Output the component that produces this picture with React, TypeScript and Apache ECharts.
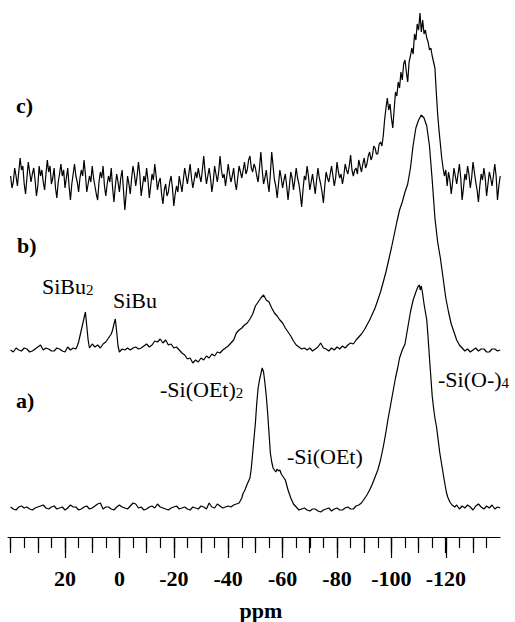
import React, { useEffect, useRef } from "react";
import * as echarts from "echarts";

// 29Si NMR spectra: [ppm, intensity above the trace's own baseline]
const traceC: [number, number][] = [
  [40, 4], [39.5, -8], [39, -2], [38.5, 12], [38, 4], [37.5, -6], [37, 8], [36.5, 22], [36, 10], [35.5, 14],
  [35, -4], [34.5, -14], [34, 2], [33.5, 18], [33, 8], [32.5, -2], [32, 6], [31.5, 12], [31, 0], [30.5, -16],
  [30, -6], [29.5, 14], [29, 4], [28.5, 10], [28, -2], [27.5, -10], [27, 6], [26.5, 20], [26, 8], [25.5, 14],
  [25, -4], [24.5, 2], [24, 12], [23.5, -8], [23, -18], [22.5, -2], [22, 6], [21.5, 16], [21, 4], [20.5, 10],
  [20, -8], [19.5, 2], [19, 12], [18.5, -6], [18, -20], [17.5, -4], [17, 6], [16.5, 16], [16, 4], [15.5, -2],
  [15, -12], [14.5, 2], [14, 10], [13.5, 4], [13, 20], [12.5, 6], [12, -12], [11.5, -4], [11, 4], [10.5, -2],
  [10, 14], [9.5, 2], [9, -6], [8.5, -14], [8, -20], [7.5, -2], [7, 8], [6.5, 2], [6, 14], [5.5, -6],
  [5, -16], [4.5, -4], [4, 4], [3.5, -2], [3, 12], [2.5, -8], [2, -22], [1.5, -6], [1, 6], [0.5, -2],
  [0, -12], [-0.5, 2], [-1, 10], [-1.5, -10], [-2, -30], [-2.5, -14], [-3, 4], [-3.5, -4], [-4, -14], [-4.5, 2],
  [-5, 14], [-5.5, 6], [-6, -6], [-6.5, 4], [-7, 18], [-7.5, 6], [-8, -16], [-8.5, -6], [-9, 4], [-9.5, -2],
  [-10, 12], [-10.5, 0], [-11, -18], [-11.5, -6], [-12, 6], [-12.5, 0], [-13, 16], [-13.5, 4], [-14, -10], [-14.5, -2],
  [-15, 2], [-15.5, -14], [-16, -24], [-16.5, -10], [-17, -4], [-17.5, -16], [-18, -12], [-18.5, -2], [-19, 4], [-19.5, -8],
  [-20, -26], [-20.5, -14], [-21, -6], [-21.5, -12], [-22, 4], [-22.5, -4], [-23, -12], [-23.5, 0], [-24, 12], [-24.5, 4],
  [-25, -4], [-25.5, 6], [-26, 16], [-26.5, 2], [-27, -8], [-27.5, 0], [-28, 8], [-28.5, 2], [-29, 12], [-29.5, 4],
  [-30, -2], [-30.5, 10], [-31, 24], [-31.5, 8], [-32, -4], [-32.5, 4], [-33, 12], [-33.5, 2], [-34, -12], [-34.5, -2],
  [-35, 14], [-35.5, 6], [-36, -2], [-36.5, 8], [-37, 24], [-37.5, 10], [-38, 2], [-38.5, 6], [-39, -6], [-39.5, 4],
  [-40, 16], [-40.5, 6], [-41, -2], [-41.5, 4], [-42, 12], [-42.5, -2], [-43, -10], [-43.5, 2], [-44, 14], [-44.5, 8],
  [-45, 2], [-45.5, 10], [-46, 18], [-46.5, 6], [-47, 10], [-47.5, 20], [-48, 24], [-48.5, 12], [-49, 8], [-49.5, 16],
  [-50, 12], [-50.5, 4], [-51, -2], [-51.5, 12], [-52, 28], [-52.5, 10], [-53, -4], [-53.5, 2], [-54, 10], [-54.5, -2],
  [-55, -12], [-55.5, 6], [-56, 28], [-56.5, 14], [-57, 0], [-57.5, -6], [-58, -18], [-58.5, -4], [-59, 10], [-59.5, 2],
  [-60, -8], [-60.5, 0], [-61, 6], [-61.5, -6], [-62, -20], [-62.5, -6], [-63, 8], [-63.5, 2], [-64, -10], [-64.5, 0],
  [-65, 12], [-65.5, 2], [-66, -4], [-66.5, -14], [-67, -27], [-67.5, -10], [-68, 4], [-68.5, 0], [-69, 14], [-69.5, 4],
  [-70, -10], [-70.5, -2], [-71, 6], [-71.5, -4], [-72, -14], [-72.5, 0], [-73, 12], [-73.5, 2], [-74, -4], [-74.5, -12],
  [-75, -23], [-75.5, -6], [-76, 8], [-76.5, 2], [-77, -2], [-77.5, 6], [-78, 14], [-78.5, 4], [-79, -6], [-79.5, 2],
  [-80, 18], [-80.5, 8], [-81, 2], [-81.5, 6], [-82, -4], [-82.5, 4], [-83, 16], [-83.5, 10], [-84, 6], [-84.5, 14],
  [-85, 25], [-85.5, 10], [-86, 4], [-86.5, 10], [-87, 12], [-87.5, 6], [-88, 20], [-88.5, 14], [-89, 8], [-89.5, 16],
  [-90, 22], [-90.5, 12], [-91, 16], [-91.5, 24], [-92, 28], [-92.5, 20], [-93, 24], [-93.5, 34], [-94, 32], [-94.5, 26],
  [-95, 26], [-95.5, 36], [-96, 38], [-96.5, 34], [-97, 44], [-97.5, 60], [-98, 72], [-98.5, 82], [-99, 70], [-99.5, 76],
  [-100, 62], [-100.5, 52], [-101, 70], [-101.5, 88], [-102, 84], [-102.5, 98], [-103, 92], [-103.5, 108], [-104, 100], [-104.5, 116],
  [-105, 120], [-105.5, 108], [-106, 98], [-106.5, 118], [-107, 124], [-107.5, 132], [-108, 126], [-108.5, 146], [-109, 140], [-109.5, 156],
  [-110, 150], [-110.5, 167], [-111, 148], [-111.5, 160], [-112, 146], [-112.5, 150], [-113, 142], [-113.5, 138], [-114, 130], [-114.5, 132],
  [-115, 124], [-115.5, 118], [-116, 112], [-116.5, 88], [-117, 66], [-117.5, 50], [-118, 36], [-118.5, 22], [-119, 12], [-119.5, 4],
  [-120, 10], [-120.5, -6], [-121, 8], [-121.5, 0], [-122, -14], [-122.5, -2], [-123, 12], [-123.5, 4], [-124, -4], [-124.5, 6],
  [-125, 16], [-125.5, 2], [-126, -20], [-126.5, -8], [-127, 6], [-127.5, 0], [-128, 14], [-128.5, 6], [-129, -8], [-129.5, 2],
  [-130, 18], [-130.5, 8], [-131, -2], [-131.5, -10], [-132, -22], [-132.5, -6], [-133, 6], [-133.5, 0], [-134, 12], [-134.5, 2],
  [-135, -16], [-135.5, -4], [-136, 8], [-136.5, 2], [-137, -6], [-137.5, 4], [-138, 16], [-138.5, 4], [-139, -20], [-139.5, -6],
  [-140, 4],
];

const traceB: [number, number][] = [
  [40, 0], [39, -2], [38, 2], [37, 0], [36, -1], [35, 2], [34, 1], [33, -2], [32, -1], [31, 1],
  [30, 3], [29, 5], [28, 0], [27, 2], [26, 1], [25, -1], [24, -1], [23, 2], [22, 1], [21, -1],
  [20, -2], [19, 3], [18, 0], [17, 2], [16, 1], [15.5, 4], [15, 8], [14.5, 14], [14, 20], [13.5, 26],
  [13, 32], [12.5, 38], [12, 24], [11.5, 10], [11, 2], [10, 6], [9, 3], [8, 5], [7, 2], [6, 6],
  [5, 8], [4, 12], [3, 16], [2.5, 20], [2, 26], [1.5, 31], [1, 18], [0.5, 4], [0, -2], [-1, 1],
  [-2, 0], [-3, 2], [-4, 0], [-5, 2], [-6, 3], [-7, 1], [-8, 2], [-9, 4], [-10, 6], [-11, 3],
  [-12, 5], [-13, 9], [-14, 8], [-15, 11], [-16, 7], [-17, 10], [-18, 5], [-19, 6], [-20, 2], [-21, 3],
  [-22, 0], [-23, -3], [-24, -5], [-25, -9], [-26, -8], [-27, -13], [-28, -10], [-29, -12], [-30, -8], [-31, -10],
  [-32, -6], [-33, -8], [-34, -4], [-35, -6], [-36, -2], [-37, -3], [-38, 0], [-39, 2], [-40, 4], [-41, 7],
  [-42, 10], [-43, 17], [-44, 20], [-45, 22], [-46, 25], [-47, 27], [-48, 31], [-49, 36], [-50, 44], [-51, 48],
  [-52, 52], [-53, 55], [-54, 50], [-55, 48], [-56, 42], [-57, 37], [-58, 34], [-59, 30], [-60, 27], [-61, 22],
  [-62, 18], [-63, 14], [-64, 9], [-65, 5], [-66, 3], [-67, 1], [-68, 2], [-69, 0], [-70, 2], [-71, -1],
  [-72, 1], [-73, 3], [-74, 7], [-75, 2], [-76, 1], [-77, -1], [-78, 2], [-79, 0], [-80, 3], [-81, 1],
  [-82, 4], [-83, 2], [-84, 5], [-85, 7], [-86, 6], [-87, 10], [-88, 13], [-89, 16], [-90, 20], [-91, 25],
  [-92, 30], [-93, 36], [-94, 42], [-95, 50], [-96, 58], [-97, 68], [-98, 78], [-99, 90], [-100, 102], [-101, 115],
  [-102, 128], [-103, 140], [-104, 148], [-105, 158], [-106, 166], [-107, 182], [-108, 205], [-109, 222], [-110, 230], [-111, 235],
  [-112, 232], [-113, 224], [-114, 204], [-115, 170], [-116, 132], [-117, 108], [-118, 92], [-119, 72], [-120, 52], [-121, 38],
  [-122, 26], [-123, 18], [-124, 10], [-125, 5], [-126, 2], [-127, -1], [-128, 1], [-129, -2], [-130, 0], [-131, 2],
  [-132, -1], [-133, 1], [-134, 1], [-135, -2], [-136, -2], [-137, 1], [-138, 1], [-139, -1], [-140, 0],
];

const traceA: [number, number][] = [
  [40, 1], [39, -1], [38, -2], [37, 1], [36, 2], [35, 0], [34, 1], [33, -1], [32, -2], [31, 0],
  [30, 1], [29, 2], [28, 3], [27, 0], [26, -1], [25, 1], [24, 2], [23, -1], [22, 0], [21, 1],
  [20, -2], [19, 0], [18, 3], [17, 1], [16, 1], [15, -2], [14, -1], [13, 1], [12, 2], [11, -1],
  [10, 0], [9, 2], [8, 4], [7, 5], [6, -1], [5, 1], [4, 1], [3, -1], [2, -2], [1, 1],
  [0, 3], [-1, 1], [-2, 0], [-3, -1], [-4, 2], [-5, 5], [-6, 4], [-7, 0], [-8, 1], [-9, -2],
  [-10, -1], [-11, 1], [-12, 2], [-13, 0], [-14, 4], [-15, 1], [-16, 0], [-17, -1], [-18, -2], [-19, 0],
  [-20, 1], [-21, 2], [-22, -1], [-23, 0], [-24, 1], [-25, -1], [-26, -2], [-27, 1], [-28, 0], [-29, -1],
  [-30, 2], [-31, 1], [-32, -1], [-33, 5], [-34, 1], [-35, 0], [-36, 4], [-37, 2], [-38, 0], [-39, 1],
  [-40, 2], [-41, 1], [-42, 3], [-43, 4], [-44, 5], [-45, 10], [-45.5, 15], [-46, 17], [-47, 24], [-48, 30],
  [-48.5, 40], [-49, 55], [-49.5, 70], [-50, 85], [-50.5, 105], [-51, 120], [-51.5, 128], [-52, 134], [-52.5, 140], [-53, 136],
  [-53.5, 125], [-54, 112], [-54.5, 95], [-55, 75], [-55.5, 55], [-56, 46], [-56.5, 40], [-57, 38], [-57.5, 36], [-58, 39],
  [-58.5, 37], [-59, 38], [-59.5, 34], [-60, 32], [-61, 28], [-62, 18], [-63, 10], [-64, 4], [-65, 1], [-66, -2],
  [-67, -1], [-68, 0], [-69, -2], [-70, -3], [-71, -1], [-72, -1], [-73, -3], [-74, -4], [-75, -2], [-76, -1],
  [-77, 0], [-78, -3], [-79, -1], [-80, 0], [-81, -2], [-82, -2], [-83, 0], [-84, 1], [-85, -1], [-86, -1],
  [-87, 2], [-88, 3], [-89, 5], [-90, 9], [-91, 13], [-92, 18], [-93, 24], [-94, 31], [-95, 38], [-96, 48],
  [-97, 61], [-98, 76], [-98.7, 88], [-99.5, 100], [-100.5, 115], [-101.5, 130], [-102.3, 140], [-103, 150], [-104, 158], [-105, 164],
  [-106, 180], [-107, 196], [-108, 208], [-109, 216], [-109.7, 221], [-110.3, 223], [-110.6, 218], [-111, 222], [-111.5, 214], [-112, 204],
  [-113, 188], [-113.5, 170], [-114, 150], [-114.5, 131], [-115, 112], [-115.5, 100], [-116, 90], [-116.6, 81], [-117.2, 68], [-117.8, 55],
  [-118.7, 40], [-119.6, 25], [-120.2, 16], [-120.7, 11], [-121.5, 6], [-122.3, 3], [-123.3, 1], [-124, 3], [-125, -1], [-126, 2],
  [-127, 0], [-128, 3], [-129, 1], [-130, -2], [-131, 2], [-132, 4], [-133, 1], [-134, -1], [-135, 2], [-136, 0],
  [-137, 3], [-138, -1], [-139, 1], [-140, 0],
];

const traceNames = ["c)", "b)", "a)"];
const xLabel = "ppm";

// stacking offsets (vertical placement of each trace)
const OFFSET_C = 357;
const OFFSET_B = 187;
const OFFSET_A = 29;

const SERIF = "'Liberation Serif', 'Times New Roman', serif";

export default function App() {
  const ref = useRef<HTMLDivElement>(null);

  useEffect(() => {
    if (!ref.current) return;
    const chart = echarts.init(ref.current, undefined, { renderer: "svg" });

    const gridBase = { top: 0, bottom: 85 };
    const tickStyle = { color: "#000", width: 1.2 };
    const hiddenY = (i: number) => ({
      type: "value",
      gridIndex: i,
      min: 0,
      max: 537,
      show: false,
    });

    const line = (data: [number, number][], off: number) => ({
      type: "line",
      xAxisIndex: 0,
      yAxisIndex: 0,
      showSymbol: false,
      symbol: "none",
      silent: true,
      lineStyle: { color: "#000", width: 1.2 },
      data: data.map(([p, v]) => [p, v + off]),
    });

    const txt = (x: number, y: number, text: string, opts: any = {}) => ({
      type: "text",
      x,
      y,
      silent: true,
      style: {
        text,
        fill: "#000",
        fontFamily: SERIF,
        fontSize: 22,
        fontWeight: opts.bold ? "bold" : "normal",
        align: opts.align || "left",
        verticalAlign: "middle",
        rich: opts.rich,
      },
    });

    const richSub = {
      m: { fontFamily: SERIF, fontSize: 22, lineHeight: 22, fill: "#000" },
      s: { fontFamily: SERIF, fontSize: 15, lineHeight: 15, verticalAlign: "bottom", fill: "#000" },
    };

    chart.setOption({
      animation: false,
      backgroundColor: "#fff",
      grid: [
        { left: 10.6, right: 14.8, ...gridBase },
        { left: 8, right: 15, ...gridBase },
        { left: 10.6, right: 28.4, ...gridBase },
        { left: 10.6, right: 42.1, ...gridBase },
        { left: 10.6, right: 69.2, ...gridBase },
      ],
      xAxis: [
        { type: "value", gridIndex: 0, min: -140, max: 40, inverse: true, show: false },
        {
          type: "value",
          gridIndex: 1,
          min: 0,
          max: 1,
          axisLine: { show: true, lineStyle: tickStyle },
          axisTick: { show: false },
          axisLabel: { show: false },
          splitLine: { show: false },
        },
        {
          type: "value",
          gridIndex: 2,
          min: -135,
          max: 40,
          interval: 5,
          inverse: true,
          axisLine: { show: false },
          axisTick: { show: true, length: 11, lineStyle: tickStyle },
          axisLabel: { show: false },
          splitLine: { show: false },
        },
        {
          type: "value",
          gridIndex: 3,
          min: -130,
          max: 40,
          interval: 10,
          inverse: true,
          axisLine: { show: false },
          axisTick: { show: true, length: 16, lineStyle: tickStyle },
          axisLabel: { show: false },
          splitLine: { show: false },
        },
        {
          type: "value",
          gridIndex: 4,
          min: -120,
          max: 40,
          interval: 20,
          inverse: true,
          axisLine: { show: false },
          axisTick: { show: true, length: 21, lineStyle: tickStyle },
          axisLabel: {
            show: true,
            margin: 30,
            showMaxLabel: false,
            color: "#000",
            fontFamily: SERIF,
            fontSize: 22,
            fontWeight: "bold",
          },
          splitLine: { show: false },
        },
      ],
      yAxis: [0, 1, 2, 3, 4].map(hiddenY),
      series: [line(traceC, OFFSET_C), line(traceB, OFFSET_B), line(traceA, OFFSET_A)],
      graphic: [
        txt(16, 105, traceNames[0], { bold: true }),
        txt(17, 245, traceNames[1], { bold: true }),
        txt(16, 400, traceNames[2], { bold: true }),
        txt(42, 286, "{m|SiBu}{s|2}", { rich: richSub }),
        txt(113, 300, "SiBu"),
        txt(160, 389, "{m|-Si(OEt)}{s|2}", { rich: richSub }),
        txt(287, 456, "-Si(OEt)"),
        txt(438, 379, "{m|-Si(O-)}{s|4}", { rich: richSub }),
        txt(261, 610, xLabel, { bold: true, align: "center" }),
      ],
    });

    return () => chart.dispose();
  }, []);

  return (
    <div
      ref={ref}
      style={{ position: "fixed", left: 0, top: 0, width: 515, height: 622, background: "#fff" }}
    />
  );
}
